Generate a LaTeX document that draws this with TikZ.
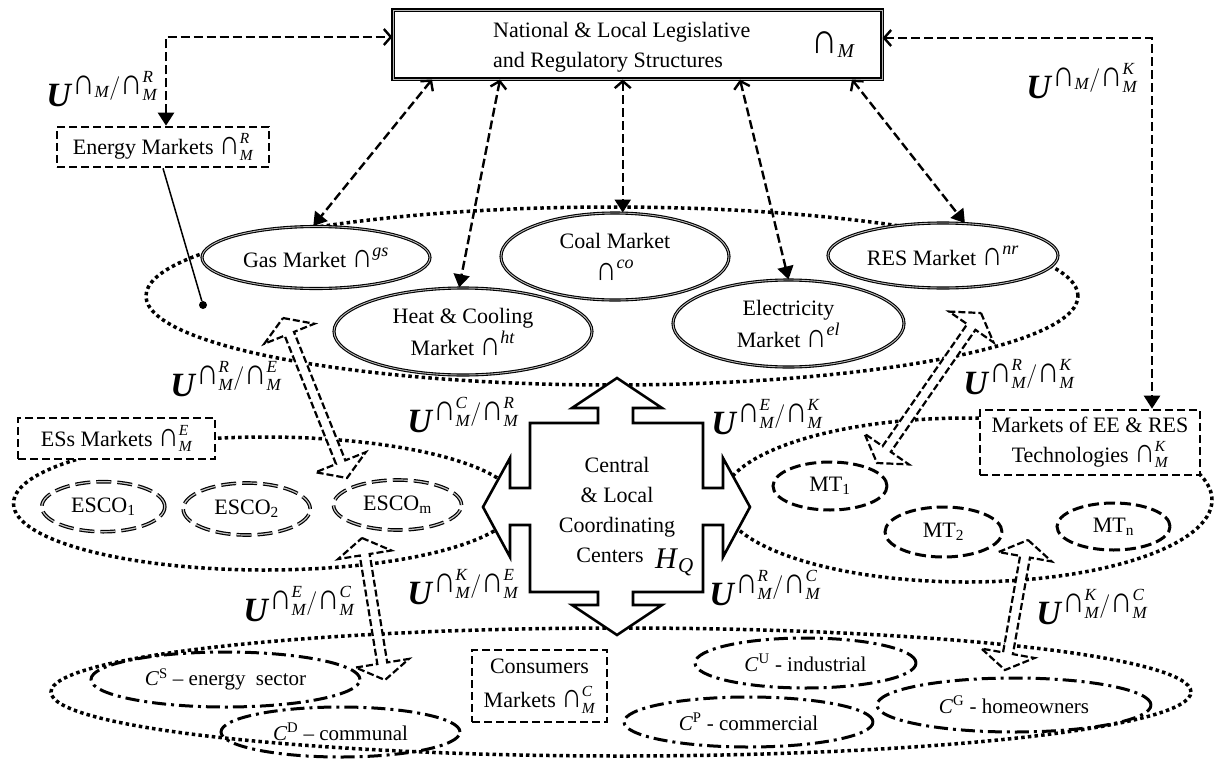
\RequirePackage{fix-cm}
\documentclass[tikz,border=0pt]{standalone}
\usepackage{amsmath}
\usepackage{graphicx}
\usepackage{fontspec}
\setmainfont{Liberation Serif}
\usetikzlibrary{shapes.geometric,arrows.meta,calc}

\newcommand\ca{\text{\scalebox{1.3}[1.55]{∩}}}
\newcommand\cs[1]{$\ca^{\text{\fontsize{18}{18}\selectfont\textit{#1}}}$}
\newcommand\Ulab[2]{{\fontsize{34}{34}\selectfont\textbf{\textit{U}}$^{#1/#2}$}}
\newcommand\UU[2]{\Ulab{\ca_{\textit{M}}^{\textit{#1}}}{\ca_{\textit{M}}^{\textit{#2}}}}
\newcommand\blockarr[3]{%
  \coordinate (#1a) at ($(#2)!17pt!(#3)$);
  \coordinate (#1b) at ($(#3)!17pt!(#2)$);
  \draw[blk] (#2) -- ($(#1a)!27pt!90:(#3)$) -- ($(#1a)!5pt!90:(#3)$) -- ($(#1b)!5pt!-90:(#2)$) -- ($(#1b)!27pt!-90:(#2)$) -- (#3) -- ($(#1b)!27pt!90:(#2)$) -- ($(#1b)!5pt!90:(#2)$) -- ($(#1a)!5pt!-90:(#3)$) -- ($(#1a)!27pt!-90:(#3)$) -- cycle;}

\begin{document}
\begin{tikzpicture}[x=1pt, y=-1pt,
  every node/.style={font=\fontsize{22}{30}\selectfont, inner sep=0pt},
  grp/.style={ellipse, draw, line width=3.5pt, dash pattern=on 3.5pt off 3.2pt},
  mkt/.style={ellipse, draw, fill=white, line width=1.1pt, double=gray!55, double distance=0.9pt, align=center, font=\fontsize{22}{32}\selectfont},
  esco/.style={ellipse, draw, fill=white, line width=1.2pt, double=gray!45, double distance=1.2pt, dash pattern=on 15pt off 6pt},
  mt/.style={ellipse, draw, fill=white, line width=3pt, dash pattern=on 11pt off 5pt},
  cons/.style={ellipse, draw, line width=3pt, dash pattern=on 14pt off 5pt on 3pt off 5pt, font=\fontsize{21}{26}\selectfont},
  dbox/.style={rectangle, draw, fill=white, line width=2.6pt, dash pattern=on 8pt off 4pt, align=center},
  conn/.style={line width=2.4pt, dash pattern=on 9pt off 4pt},
  tri/.tip={Triangle[length=13pt,width=16pt]},
  barb/.tip={Straight Barb[length=7pt,width=16pt]},
  blk/.style={draw, fill=white, line width=2.2pt, dash pattern=on 7pt off 3pt, line join=miter}]
\useasboundingbox (0,0) rectangle (1219,763);

% group regions (dotted)
\node[grp, minimum width=932pt, minimum height=178pt] (gUp) at (612,296) {};
\node[grp, minimum width=503pt, minimum height=133pt] (gES) at (265,503.5) {};
\node[grp, minimum width=490pt, minimum height=164pt] (gMT) at (967,500) {};
\node[grp, minimum width=1140pt, minimum height=128pt] (gC) at (621,692) {};

% block arrows
\coordinate (b1s) at (283,318); \coordinate (b1e) at (347,478);
\coordinate (b2s) at (981,313); \coordinate (b2e) at (877,463);
\coordinate (b3s) at (362,538); \coordinate (b3e) at (385,680);
\coordinate (b4s) at (1028,540); \coordinate (b4e) at (1005,670);
\blockarr{ba}{b1s}{b1e}
\blockarr{bb}{b2s}{b2e}
\blockarr{bc}{b3s}{b3e}
\blockarr{bd}{b4s}{b4e}

% energy markets
\node[mkt, minimum width=228pt, minimum height=62pt] (gas) at (316,257.5) {Gas Market \cs{gs}};
\node[mkt, minimum width=228pt, minimum height=87pt] (coal) at (615,256.5) {Coal Market\\\cs{co}};
\node[mkt, minimum width=258pt, minimum height=87pt] (heat) at (463,331.5) {Heat \& Cooling\\Market \cs{ht}};
\node[mkt, minimum width=231pt, minimum height=87pt] (elec) at (788.5,323.5) {Electricity\\Market \cs{el}};
\node[mkt, minimum width=230pt, minimum height=65pt] (res) at (943,255.5) {RES Market \cs{nr}};

% top box
\node[draw, fill=white, line width=1.1pt, double=gray!55, double distance=0.9pt, minimum width=489pt, minimum height=69pt] (top) at (637.5,44.5) {};
\node[anchor=west, align=left] (toptxt) at (493,47) {National \& Local Legislative\\and Regulatory Structures};
\node[anchor=base, font=\fontsize{28}{28}\selectfont] (topsym) at (833,53) {$\ca_{\textit{M}}$};

% dashed boxes
\node[dbox, minimum width=212pt, minimum height=40pt] (energy) at (163,147) {Energy Markets $\ca_{\textit{M}}^{\textit{R}}$};
\node[dbox, minimum width=197pt, minimum height=41pt] (ess) at (116.5,438.5) {ESs Markets $\ca_{\textit{M}}^{\textit{E}}$};
\node[dbox, minimum width=220pt, minimum height=65pt] (ee) at (1090,442.5) {Markets of EE \& RES\\Technologies $\ca_{\textit{M}}^{\textit{K}}$};
\node[dbox, minimum width=135pt, minimum height=72pt, font=\fontsize{22}{34}\selectfont] (cm) at (539.5,686) {Consumers\\Markets $\ca_{\textit{M}}^{\textit{C}}$};

% ESCOs
\node[esco, minimum width=123pt, minimum height=50pt] (esco1) at (103.3,506.7) {ESCO\textsubscript{1}};
\node[esco, minimum width=127pt, minimum height=52pt] (esco2) at (246.7,509) {ESCO\textsubscript{2}};
\node[esco, minimum width=128pt, minimum height=50pt] (escom) at (397.5,505) {ESCO\textsubscript{m}};

% MTs
\node[mt, minimum width=114pt, minimum height=48pt] (mt1) at (830,486) {MT\textsubscript{1}};
\node[mt, minimum width=117pt, minimum height=50pt] (mt2) at (943.5,532) {MT\textsubscript{2}};
\node[mt, minimum width=113pt, minimum height=47pt] (mtn) at (1113.5,526.5) {MT\textsubscript{n}};

% consumers
\node[cons, minimum width=269pt, minimum height=55pt] (cs) at (225.5,679.5) {\textit{C}\textsuperscript{S} – energy\ \ sector};
\node[cons, minimum width=239pt, minimum height=50pt] (cd) at (340.5,732) {\textit{C}\textsuperscript{D} – communal};
\node[cons, minimum width=221pt, minimum height=50pt] (cu) at (805.5,663) {\textit{C}\textsuperscript{U} - industrial};
\node[cons, minimum width=249pt, minimum height=50pt] (cp) at (748.5,722) {\textit{C}\textsuperscript{P} - commercial};
\node[cons, minimum width=274pt, minimum height=54pt] (cg) at (1014,705) {\textit{C}\textsuperscript{G} - homeowners};

% coordinating centers cross
\draw[line width=2.6pt, fill=white, line join=miter] (617,378) -- (662,408) -- (633,408) -- (633,423) -- (703,423) -- (703,488) -- (723,488) -- (723,458) -- (750,507) -- (723,557) -- (723,525) -- (703,525) -- (703,592) -- (633,592) -- (633,605) -- (662,605) -- (617,635) -- (572,605) -- (598,605) -- (598,592) -- (530,592) -- (530,525) -- (510,525) -- (510,557) -- (483,507) -- (510,458) -- (510,488) -- (530,488) -- (530,423) -- (598,423) -- (598,408) -- (572,408) -- cycle;
\node[align=center] (hq) at (617,510) {Central\\\& Local\\Coordinating\\Centers\hspace*{14pt}};
\node[anchor=base west, font=\fontsize{30}{30}\selectfont] (hqsym) at (655,568) {\textit{H}$_{\textit{Q}}$};

% connectors
\coordinate (cl) at (166,37);
\coordinate (cr) at (1152,38);
\draw[conn, {tri}-{barb}] (energy.north -| cl) -- (cl) -- (top.west |- cl);
\draw[conn, {barb}-{tri}] (top.east |- cr) -- (cr) -- (ee.north -| cr);
\coordinate (xg) at (432,0);
\coordinate (xh) at (500,0);
\coordinate (xe) at (740,0);
\coordinate (xr) at (852,0);
\draw[conn, {barb}-{tri}] (top.south -| xg) -- (gas.95);
\draw[conn, {barb}-{tri}] (top.south -| xh) -- (heat.95);
\draw[conn, {barb}-{tri}] (top.south -| coal.80) -- (coal.80);
\draw[conn, {barb}-{tri}] (top.south -| xe) -- (elec.north);
\draw[conn, {barb}-{tri}] (top.south -| xr) -- (res.56);

% pointer of energy markets
\node[circle, fill, minimum size=8pt] (dot) at (203,305) {};
\draw[line width=1.5pt] (energy.south) -- (dot);

% interaction labels
\node (l1) at (102,89) {\Ulab{\ca_{\textit{M}}}{\ca_{\textit{M}}^{\textit{R}}}};
\node (l2) at (1082,81) {\Ulab{\ca_{\textit{M}}}{\ca_{\textit{M}}^{\textit{K}}}};
\node (l3) at (226,379) {\UU{R}{E}};
\node (l4) at (1019,377) {\UU{R}{K}};
\node (l5) at (463,415) {\UU{C}{R}};
\node (l6) at (767,417) {\UU{E}{K}};
\node (l7) at (463,587) {\UU{K}{E}};
\node (l8) at (765,588) {\UU{R}{C}};
\node (l9) at (299,604) {\UU{E}{C}};
\node (l10) at (1092,607) {\UU{K}{C}};
\end{tikzpicture}
\end{document}
